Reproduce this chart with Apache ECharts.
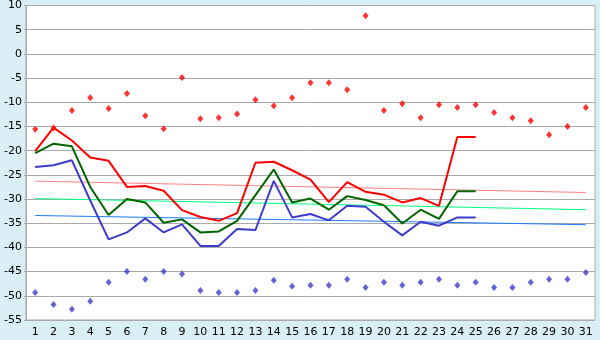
<!DOCTYPE html>
<html><head><meta charset="utf-8">
<script src="https://cdn.jsdelivr.net/npm/echarts@6/dist/echarts.min.js"></script>
<style>html,body{margin:0;padding:0;background:#d9eef5;}#c{width:600px;height:340px;}</style>
</head><body><div id="c"></div>
<script>
var days = ['1','2','3','4','5','6','7','8','9','10','11','12','13','14','15','16','17','18','19','20','21','22','23','24','25','26','27','28','29','30','31'];
var yTicks = {min: -55, max: 10, interval: 5};
var recordHigh = [-15.6,-15.3,-11.7,-9.05,-11.3,-8.2,-12.8,-15.45,-4.9,-13.4,-13.2,-12.4,-9.5,-10.7,-9.05,-5.95,-5.95,-7.4,7.9,-11.7,-10.3,-13.2,-10.5,-11.1,-10.5,-12.1,-13.2,-13.8,-16.7,-15.0,-11.1];
var recordLow = [-49.3,-51.8,-52.8,-51.1,-47.2,-45.0,-46.6,-45.0,-45.5,-48.9,-49.3,-49.3,-48.9,-46.8,-48.05,-47.8,-47.8,-46.6,-48.3,-47.2,-47.8,-47.2,-46.6,-47.8,-47.2,-48.3,-48.3,-47.2,-46.6,-46.6,-45.2];
var dailyMax = [-20.1,-15.25,-17.9,-21.4,-22.1,-27.5,-27.3,-28.3,-32.3,-33.7,-34.5,-32.9,-22.5,-22.3,-24.05,-26.0,-30.65,-26.5,-28.5,-29.1,-30.7,-29.8,-31.4,-17.2,-17.2];
var dailyMean = [-20.5,-18.55,-19.1,-27.5,-33.3,-30.0,-30.7,-34.9,-34.2,-36.9,-36.7,-34.5,-29.2,-23.9,-30.7,-29.9,-32.2,-29.4,-30.2,-31.3,-35.05,-32.2,-34.1,-28.4,-28.4];
var dailyMin = [-23.4,-23.0,-22.0,-30.3,-38.35,-36.9,-34.0,-36.9,-35.25,-39.7,-39.7,-36.2,-36.4,-26.25,-33.8,-33.1,-34.4,-31.4,-31.6,-34.7,-37.5,-34.7,-35.5,-33.8,-33.8];
var trendMax = [-26.3, -28.65];
var trendMean = [-29.9, -32.2];
var trendMin = [-33.4, -35.3];

function endpoints(pair){
  var a = days.map(function(){return null;});
  a[0] = pair[0]; a[days.length-1] = pair[1];
  return a;
}
function lineS(data, color, w, z){
  return {type:'line', data:data, symbol:'none', connectNulls:true, z:z,
    lineStyle:{color:color, width:w}, itemStyle:{color:color}, animation:false};
}
function pts(data, color){
  return {type:'scatter', data:data, symbol:'diamond', symbolSize:[6,7], z:10,
    itemStyle:{color:color}, animation:false};
}
var chart = echarts.init(document.getElementById('c'), null, {renderer:'canvas'});
chart.setOption({
  backgroundColor:'#d9eef5',
  animation:false,
  grid:{left:26, right:5, top:5, bottom:20, show:true, backgroundColor:'#ffffff', borderColor:'#aaaaaa', borderWidth:1},
  xAxis:{type:'category', data:days, boundaryGap:true,
    axisLine:{lineStyle:{color:'#aaaaaa', width:1}},
    axisTick:{alignWithLabel:true, length:5, lineStyle:{color:'#000'}},
    axisLabel:{color:'#000', fontFamily:'DejaVu Sans', fontSize:11, margin:7, interval:0},
    splitLine:{show:false}},
  yAxis:{type:'value', min:yTicks.min, max:yTicks.max, interval:yTicks.interval,
    axisLine:{show:true, lineStyle:{color:'#aaaaaa'}},
    axisTick:{show:true, length:2, lineStyle:{color:'#aaaaaa'}},
    axisLabel:{color:'#000', fontFamily:'DejaVu Sans', fontSize:11, margin:4},
    splitLine:{lineStyle:{color:'#aaaaaa', width:1}}},
  series:[
    lineS(endpoints(trendMax), '#ff8080', 1, 2),
    lineS(endpoints(trendMean), '#00ff80', 1, 2),
    lineS(endpoints(trendMin), '#1a7cff', 1, 2),
    lineS(dailyMin, '#3c3ccc', 2, 3),
    lineS(dailyMean, '#006400', 2, 4),
    lineS(dailyMax, '#ff0000', 2, 5),
    pts(recordHigh, '#ff0000'),
    pts(recordLow, '#3c3ccc')
  ]
});
</script></body></html>
